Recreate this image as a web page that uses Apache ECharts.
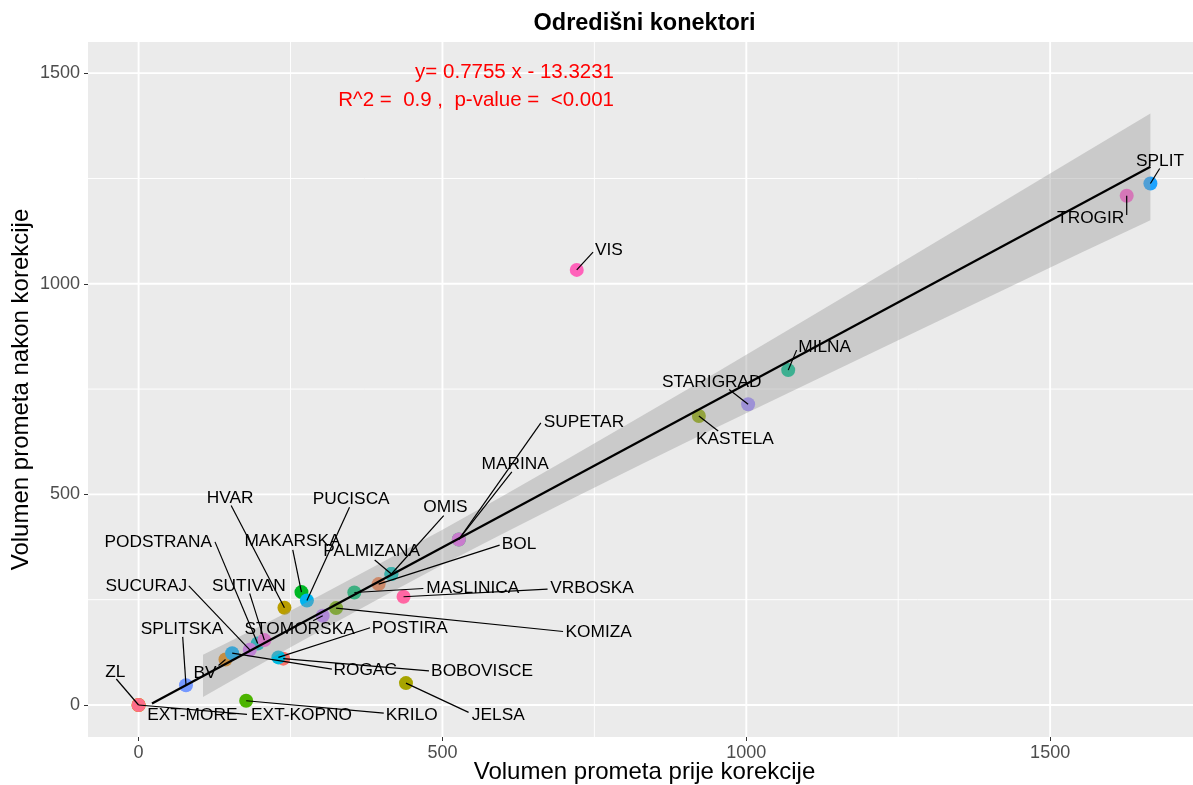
<!DOCTYPE html>
<html>
<head>
<meta charset="utf-8">
<script src="https://cdn.jsdelivr.net/npm/echarts@6/dist/echarts.min.js"></script>
<style>
  html, body { margin: 0; padding: 0; background: #ffffff; }
  #chart { width: 1193px; height: 785px; }
</style>
</head>
<body>
<div id="chart"></div>
<script>
// Connector names (alphabetical, which also drives the hue palette order)
const names = ['BOBOVISCE', 'BOL', 'BV', 'EXT-KOPNO', 'EXT-MORE', 'HVAR', 'JELSA', 'KASTELA',
  'KOMIZA', 'KRILO', 'MAKARSKA', 'MARINA', 'MASLINICA', 'MILNA', 'OMIS', 'PALMIZANA',
  'PODSTRANA', 'POSTIRA', 'PUCISCA', 'ROGAC', 'SPLIT', 'SPLITSKA', 'STARIGRAD', 'STOMORSKA',
  'SUCURAJ', 'SUPETAR', 'SUTIVAN', 'TROGIR', 'VIS', 'VRBOSKA', 'ZL'];

// Traffic volume before correction (x)
const volBefore = [238, 395, 143, 0, 0, 240, 440, 922,
  325, 177, 268, 527, 355, 1069, 416, 416,
  196, 230, 277, 154, 1665, 78, 1003, 303,
  183, 527, 207, 1626, 721, 436, 0];

// Traffic volume after correction (y)
const volAfter = [110, 287, 108, 0, 0, 231, 52, 686,
  230, 10, 268, 393, 267, 795, 311, 311,
  146, 113, 248, 123, 1238, 47, 714, 212,
  131, 393, 154, 1209, 1033, 257, 0];

// Linear fit as stated in the annotation
const slope = 0.7755;
const intercept = -13.3231;
const rSquared = '0.9';
const pValue = '<0.001';
const fitX = [22, 1665];

// Confidence band of the fit
const bandX    = [106, 150, 250, 300, 400, 500, 600, 700, 825, 950, 1100, 1250, 1417, 1550, 1665];
const bandLow  = [19,  55,  137, 177, 256, 333, 407, 480, 570, 658, 762,  866,  981,  1073, 1151];
const bandHigh = [119, 151, 224, 261, 338, 416, 497, 579, 684, 789, 917,  1046, 1190, 1305, 1404];

// Axis ticks
const xTicks = [0, 500, 1000, 1500];
const yTicks = [0, 500, 1000, 1500];
const xMinor = [250, 750, 1250];
const yMinor = [250, 750, 1250];

// Label placement in pixels relative to each point:
// [label centre dx, dy, segment end dx, dy] (segment end null = no leader line)
const labelLayout = {
  'SPLIT':     [9.6, -22.6, 9.3, -15],
  'TROGIR':    [-36, 22.6, 0, 19.3],
  'VIS':       [32.2, -20, 16.3, -17.7],
  'MILNA':     [36.5, -22.7, 8.4, -20],
  'STARIGRAD': [-36.3, -22.3, -19, -14.7],
  'KASTELA':   [36, 23.3, 19.3, 15],
  'SUPETAR':   [125.1, -117.6, 82, -116.6],
  'MARINA':    [56.3, -75, 53, -67.6],
  'OMIS':      [54, -66.7, 52.3, -58.3],
  'PALMIZANA': [-19.7, -22.3, -16.7, -14],
  'BOL':       [140.4, -39.7, 121, -39],
  'PUCISCA':   [44.3, -101.4, 42.6, -93.4],
  'MAKARSKA':  [-9, -50.6, -8.7, -42.3],
  'HVAR':      [-54.3, -109.8, -53.3, -102.2],
  'PODSTRANA': [-99.4, -101.6, -42.7, -101.6],
  'SUCURAJ':   [-103.5, -64, -61, -64],
  'SUTIVAN':   [-15.5, -54.3, -14.7, -46.7],
  'SPLITSKA':  [-4, -55.7, -3.3, -48.3],
  'STOMORSKA': [-23.1, 13.6, -9.6, 5],
  'POSTIRA':   [131.4, -29.6, 91.7, -29.6],
  'MASLINICA': [118.4, -4.4, 69, -4],
  'VRBOSKA':   [188.4, -8.4, 144, -7.7],
  'KOMIZA':    [262.6, 24, 227, 23.4],
  'ROGAC':     [133, 17.4, 99.7, 16],
  'BOBOVISCE': [198.8, 12.2, 145.7, 12.2],
  'BV':        [-20.5, 13.8, -7, 6],
  'ZL':        [-23.3, -32.3, -22.3, -26],
  'EXT-MORE':  [53.7, 10, null, null],
  'EXT-KOPNO': [162.9, 10, 108.4, 9.3],
  'KRILO':     [165.6, 14, 137.6, 12.3],
  'JELSA':     [92.3, 31.7, 62.6, 29.3]
};

const FONT = '"Liberation Sans", Arial, Helvetica, sans-serif';

// HCL (polar Luv) -> sRGB hex, as used by the default discrete hue scale
function hclColor(h, c, l) {
  const Xn = 95.047, Yn = 100.0, Zn = 108.883;
  const hr = h * Math.PI / 180;
  const U = c * Math.cos(hr), V = c * Math.sin(hr);
  const Y = Yn * (l > 7.999592 ? Math.pow((l + 16) / 116, 3) : l / 903.3);
  const t = Xn + Yn + Zn, x = Xn / t, y = Yn / t;
  const uN = 2 * x / (6 * y - x + 1.5), vN = 4.5 * y / (6 * y - x + 1.5);
  const u = U / (13 * l) + uN, v = V / (13 * l) + vN;
  const X = 9 * Y * u / (4 * v);
  const Z = -X / 3 - 5 * Y + 3 * Y / v;
  const lin = [
    ( 3.240479 * X - 1.537150 * Y - 0.498535 * Z) / 100,
    (-0.969256 * X + 1.875992 * Y + 0.041556 * Z) / 100,
    ( 0.055648 * X - 0.204043 * Y + 1.057311 * Z) / 100
  ];
  return '#' + lin.map(function (ch) {
    ch = ch <= 0.0031308 ? 12.92 * ch : 1.055 * Math.pow(ch, 1 / 2.4) - 0.055;
    ch = Math.max(0, Math.min(1, ch));
    return Math.round(ch * 255).toString(16).padStart(2, '0');
  }).join('');
}
const palette = names.map(function (_, i) { return hclColor(15 + 360 * i / names.length, 100, 65); });

const X_MIN = -83.25, X_MAX = 1748.25;
const Y_MIN = -76, Y_MAX = 1574;

const chart = echarts.init(document.getElementById('chart'), null, { renderer: 'canvas' });

// Grid lines (major + minor) as one custom series
const gridLineData = []
  .concat(xTicks.map(function (v) { return ['x', v, 1]; }))
  .concat(xMinor.map(function (v) { return ['x', v, 0]; }))
  .concat(yTicks.map(function (v) { return ['y', v, 1]; }))
  .concat(yMinor.map(function (v) { return ['y', v, 0]; }));

function renderGridLine(params, api) {
  const item = gridLineData[params.dataIndex];
  let p1, p2;
  if (item[0] === 'x') {
    p1 = api.coord([item[1], Y_MIN]); p2 = api.coord([item[1], Y_MAX]);
  } else {
    p1 = api.coord([X_MIN, item[1]]); p2 = api.coord([X_MAX, item[1]]);
  }
  return {
    type: 'line',
    shape: { x1: p1[0], y1: p1[1], x2: p2[0], y2: p2[1] },
    style: { stroke: '#ffffff', lineWidth: item[2] ? 1.9 : 0.95 },
    silent: true
  };
}

function renderBand(params, api) {
  const pts = [];
  for (let i = 0; i < bandX.length; i++) pts.push(api.coord([bandX[i], bandHigh[i]]));
  for (let i = bandX.length - 1; i >= 0; i--) pts.push(api.coord([bandX[i], bandLow[i]]));
  return {
    type: 'polygon',
    shape: { points: pts },
    style: { fill: 'rgba(153,153,153,0.4)' },
    silent: true
  };
}

function renderLabel(params, api) {
  const i = api.value(2);
  const name = names[i];
  const lay = labelLayout[name];
  const p = api.coord([api.value(0), api.value(1)]);
  const children = [];
  if (lay[2] !== null) {
    children.push({
      type: 'line',
      shape: { x1: p[0], y1: p[1], x2: p[0] + lay[2], y2: p[1] + lay[3] },
      style: { stroke: '#000000', lineWidth: 1.2 },
      silent: true
    });
  }
  children.push({
    type: 'text',
    x: p[0] + lay[0],
    y: p[1] + lay[1],
    style: {
      text: name, fill: '#000000', fontSize: 17.3, fontFamily: FONT,
      align: 'center', verticalAlign: 'middle'
    },
    silent: true
  });
  return { type: 'group', children: children };
}

function plainNumber(v) { return String(v); }

const option = {
  animation: false,
  backgroundColor: '#ffffff',
  grid: {
    left: 88, top: 42, right: -8, bottom: 48,
    show: true, backgroundColor: '#EBEBEB', borderWidth: 0,
    containLabel: false, outerBoundsMode: 'none'
  },
  xAxis: {
    type: 'value', min: X_MIN, max: X_MAX,
    name: 'Volumen prometa prije korekcije',
    nameLocation: 'middle', nameGap: 23, nameMoveOverlap: false,
    nameTextStyle: { color: '#000000', fontSize: 24, fontFamily: FONT },
    axisLine: { show: false, onZero: false },
    axisTick: { show: true, length: 4, customValues: xTicks, lineStyle: { color: '#333333', width: 1 } },
    axisLabel: { customValues: xTicks, formatter: plainNumber, margin: 7, color: '#4D4D4D', fontSize: 18, fontFamily: FONT },
    splitLine: { show: false }
  },
  yAxis: {
    type: 'value', min: Y_MIN, max: Y_MAX,
    name: 'Volumen prometa nakon korekcije',
    nameLocation: 'middle', nameGap: 55, nameMoveOverlap: false,
    nameTextStyle: { color: '#000000', fontSize: 24, fontFamily: FONT },
    axisLine: { show: false, onZero: false },
    axisTick: { show: true, length: 4, customValues: yTicks, lineStyle: { color: '#333333', width: 1 } },
    axisLabel: { customValues: yTicks, formatter: plainNumber, margin: 8, color: '#4D4D4D', fontSize: 18, fontFamily: FONT },
    splitLine: { show: false }
  },
  graphic: [
    {
      type: 'text', x: 644.5, y: 24, silent: true,
      style: { text: 'Odredišni konektori', fill: '#000000', fontSize: 23.5, fontWeight: 'bold',
        fontFamily: FONT, align: 'center', verticalAlign: 'middle' }
    },
    {
      type: 'text', x: 614, y: 72, silent: true, z: 100,
      style: { text: 'y= ' + slope + ' x - ' + Math.abs(intercept), fill: '#FF0000', fontSize: 20.5,
        fontFamily: FONT, align: 'right', verticalAlign: 'middle' }
    },
    {
      type: 'text', x: 614, y: 100, silent: true, z: 100,
      style: { text: 'R^2 =  ' + rSquared + ' ,  p-value =  ' + pValue, fill: '#FF0000', fontSize: 20.5,
        fontFamily: FONT, align: 'right', verticalAlign: 'middle' }
    }
  ],
  series: [
    {
      name: 'grid', type: 'custom', coordinateSystem: 'cartesian2d',
      renderItem: renderGridLine, data: gridLineData.map(function (d, i) { return [0, 0, i]; }),
      z: 0, silent: true, clip: true
    },
    {
      name: 'points', type: 'scatter', symbol: 'circle', symbolSize: 14, z: 1,
      data: names.map(function (n, i) {
        return { name: n, value: [volBefore[i], volAfter[i]], itemStyle: { color: palette[i], opacity: 1 } };
      }),
      silent: true
    },
    {
      name: 'band', type: 'custom', coordinateSystem: 'cartesian2d',
      renderItem: renderBand, data: [[bandX[0], bandLow[0]]], z: 2, silent: true
    },
    {
      name: 'fit', type: 'line', z: 3, symbol: 'none', silent: true,
      data: fitX.map(function (x) { return [x, slope * x + intercept]; }),
      lineStyle: { color: '#000000', width: 2.3 }
    },
    {
      name: 'labels', type: 'custom', coordinateSystem: 'cartesian2d',
      renderItem: renderLabel, z: 4, silent: true,
      data: names.map(function (n, i) { return [volBefore[i], volAfter[i], i]; })
    }
  ]
};

chart.setOption(option);
</script>
</body>
</html>
